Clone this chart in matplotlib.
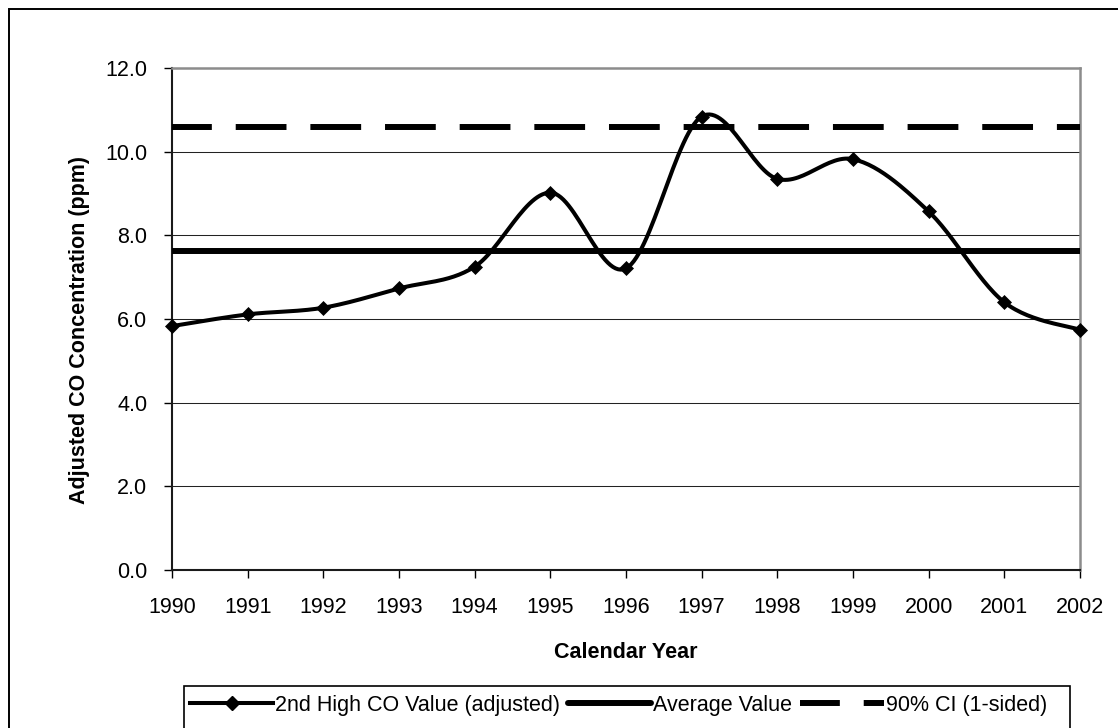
import numpy as np
import matplotlib
matplotlib.use("Agg")
import matplotlib.pyplot as plt
from matplotlib.lines import Line2D
from matplotlib.patches import Rectangle

plt.rcParams['font.family'] = ['Liberation Sans', 'DejaVu Sans']

years = [1990, 1991, 1992, 1993, 1994, 1995, 1996, 1997, 1998, 1999, 2000, 2001, 2002]
co_values = [5.83, 6.11, 6.27, 6.73, 7.25, 9.02, 7.21, 10.84, 9.35, 9.82, 8.57, 6.40, 5.74]
average_value = 7.63
ci_value = 10.6
yticks = [0.0, 2.0, 4.0, 6.0, 8.0, 10.0, 12.0]

labels = ["2nd High CO Value (adjusted)", "Average Value", "90% CI (1-sided)"]


def smooth_curve(xs, ys, n=30):
    """Excel-like smoothed line: Catmull-Rom Bezier through the points."""
    P = np.column_stack([xs, ys]).astype(float)
    m = len(P)
    out = [P[0]]
    t = np.linspace(0, 1, n)[1:]
    for i in range(m - 1):
        p0 = P[i - 1] if i > 0 else P[i]
        p1 = P[i]
        p2 = P[i + 1]
        p3 = P[i + 2] if i + 2 < m else P[i + 1]
        c1 = p1 + (p2 - p0) / 6.0
        c2 = p2 - (p3 - p1) / 6.0
        for tt in t:
            b = ((1 - tt) ** 3) * p1 + 3 * ((1 - tt) ** 2) * tt * c1 + 3 * (1 - tt) * tt ** 2 * c2 + tt ** 3 * p2
            out.append(b)
    out = np.array(out)
    return out[:, 0], out[:, 1]


W, H = 1118, 728
fig = plt.figure(figsize=(W / 100, H / 100), dpi=100)
fig.patch.set_facecolor('white')

# outer chart border (clipped at right/bottom like the reference)
fig.patches.append(Rectangle((9 / W, -0.05), 1.2, 1 - 9 / H + 0.05, transform=fig.transFigure,
                             fill=False, edgecolor='black', linewidth=1.4, zorder=0))

ax = fig.add_axes([172 / W, 1 - 570 / H, 908 / W, 502 / H])
ax.set_xlim(years[0], years[-1])
ax.set_ylim(yticks[0], yticks[-1])

ax.set_yticks(yticks)
ax.set_yticklabels([f"{v:.1f}" for v in yticks])
ax.set_xticks(years)
ax.set_xticklabels([str(y) for y in years])
ax.tick_params(axis='both', direction='out', length=5.8, width=1.0, color='black',
               labelsize=15.5, labelcolor='black')
ax.tick_params(axis='y', pad=12)
ax.tick_params(axis='x', pad=13.5)

for yv in yticks[1:-1]:
    ax.axhline(yv, color='#222222', linewidth=0.75, zorder=1)

for s in ['top', 'right']:
    ax.spines[s].set_color('#8c8c8c')
    ax.spines[s].set_linewidth(1.8)
for s in ['left', 'bottom']:
    ax.spines[s].set_color('#1a1a1a')
    ax.spines[s].set_linewidth(1.5)

sx, sy = smooth_curve(years, co_values)
ax.plot(sx, sy, color='black', linewidth=2.9, solid_joinstyle='round', zorder=4, clip_on=False)
ax.plot(years, co_values, linestyle='none', marker='D', markersize=6.8, color='black',
        markeredgewidth=0.5, zorder=5, clip_on=False)

ax.axhline(average_value, color='black', linewidth=4.3, solid_capstyle='round', zorder=3)
ax.axhline(ci_value, color='black', linewidth=4.3, linestyle=(1.83, (8.5, 4.0)),
           dash_capstyle='butt', zorder=3)

fig.text(80 / W, 1 - 330 / H, "Adjusted CO Concentration (ppm)", rotation=90,
         ha='center', va='center', fontsize=15.5, fontweight='bold')
fig.text(626 / W, 1 - 652 / H, "Calendar Year", ha='center', va='center',
         fontsize=15.5, fontweight='bold')

# legend
fig.patches.append(Rectangle((184 / W, -0.05), (1070 - 184) / W, 1 - 686 / H + 0.05,
                             transform=fig.transFigure, fill=False, edgecolor='black',
                             linewidth=1.2, zorder=0))
h1 = Line2D([], [], color='black', linewidth=2.9, marker='D', markersize=6.8)
h2 = Line2D([], [], color='black', linewidth=4.3, solid_capstyle='round')
h3 = Line2D([], [], color='black', linewidth=4.3, linestyle=(1.83, (8.5, 4.0)), dash_capstyle='butt')
fig.legend([h1, h2, h3], labels, loc='center left', bbox_to_anchor=(190 / W, 1 - 705 / H),
           ncol=3, frameon=False, fontsize=15.5, handlelength=3.86, handletextpad=0.1,
           columnspacing=0.37, borderpad=0, borderaxespad=0, numpoints=1)

fig.savefig("out.png", dpi=100, facecolor='white')
